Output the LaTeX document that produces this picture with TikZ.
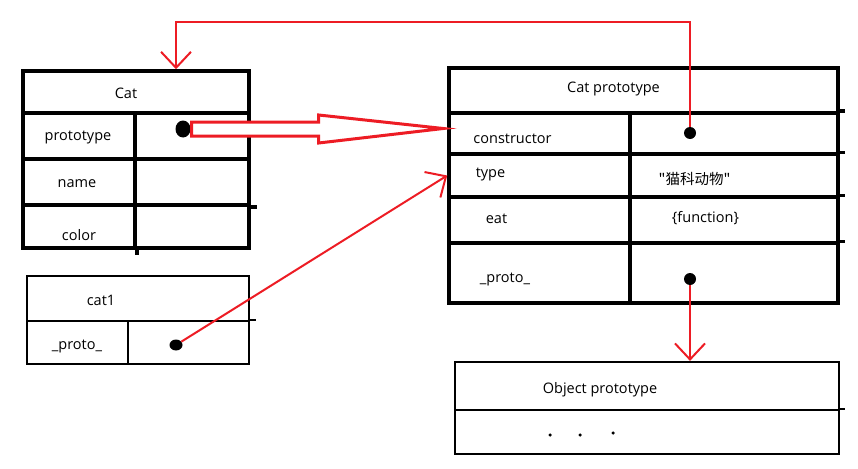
\documentclass[tikz,border=0pt]{standalone}
\usepackage{fontspec}
\setmainfont{Open Sans}
\newfontfamily\cjk{Noto Sans CJK SC}
\usetikzlibrary{arrows.meta,calc,shapes.geometric}
\definecolor{paintred}{RGB}{237,28,36}
\tikzset{
  heavy/.style={draw=black,line width=3.5pt},
  light/.style={draw=black,line width=2.2pt},
  cell/.style 2 args={rectangle,inner sep=0pt,minimum width=#1,minimum height=#2},
  lab/.style={font=\fontsize{14.5}{17}\selectfont,inner sep=0pt},
  blob/.style={ellipse,fill=black,inner sep=0pt},
  link/.style={draw=paintred,line width=2pt,-{Straight Barb[length=16pt,width=30pt]}},
  fatarrow/.style={draw=paintred,fill=white,line width=3pt,line join=miter},
}

\begin{document}
\begin{tikzpicture}[x=1pt,y=-1pt]
  \path[use as bounding box] (0,0) rectangle (858,468);

  % Cat
  \node[heavy,cell={226pt}{42pt}] (cattitle) at (136,92) {};
  \node[heavy,cell={112pt}{46pt}] (protokey) at (79,136) {};
  \node[heavy,cell={114pt}{46pt}] (protoval) at (192,136) {};
  \node[heavy,cell={112pt}{46pt}] (namekey) at (79,182) {};
  \node[heavy,cell={114pt}{46pt}] (nameval) at (192,182) {};
  \node[heavy,cell={112pt}{43pt}] (colorkey) at (79,226.5) {};
  \node[heavy,cell={114pt}{43pt}] (colorval) at (192,226.5) {};
  \draw[heavy] (nameval.south east) -- ++(6,0);
  \draw[heavy] (colorkey.south east) -- ++(0,5);
  \node[lab] (catlab) at (126,93) {Cat};
  \node[lab] (protolab) at (78,137) {prototype};
  \node[lab] (namelab) at (77,184) {name};
  \node[lab] (colorlab) at (79,235) {color};
  \node[blob,minimum width=15pt,minimum height=17pt] (pdot) at (183,129) {};

  % Cat prototype
  \node[heavy,cell={389pt}{45pt}] (cptitle) at (643.5,90.5) {};
  \node[heavy,cell={181pt}{41pt}] (ctorkey) at (539.5,133.5) {};
  \node[heavy,cell={208pt}{41pt}] (ctorval) at (734,133.5) {};
  \node[heavy,cell={181pt}{43pt}] (typekey) at (539.5,175.5) {};
  \node[heavy,cell={208pt}{43pt}] (typeval) at (734,175.5) {};
  \node[heavy,cell={181pt}{46pt}] (eatkey) at (539.5,220) {};
  \node[heavy,cell={208pt}{46pt}] (eatval) at (734,220) {};
  \node[heavy,cell={181pt}{60pt}] (cpprotokey) at (539.5,273) {};
  \node[heavy,cell={208pt}{60pt}] (cpprotoval) at (734,273) {};
  \foreach \n in {ctorval,typeval,eatval,cpprotoval}
    \draw[heavy] (\n.north east) -- ++(5,0);
  \node[lab] (cplab) at (613.5,89) {Cat prototype};
  \node[lab] (ctorlab) at (512.5,138.5) {constructor};
  \node[lab] (typelab) at (490.5,174) {type};
  \node[lab] (eatlab) at (496.5,219) {eat};
  \node[lab] (cpprotolab) at (505,279.5) {\_proto\_};
  \node[lab] (typevallab) at (694.5,178.5) {\cjk "猫科动物"};
  \node[lab] (eatvallab) at (705.5,218) {\{function\}};
  \node[blob,minimum size=12pt] (cdot) at (690,133) {};
  \node[blob,minimum size=12pt] (protodot) at (690,279) {};

  % cat1
  \node[light,cell={222pt}{45pt}] (c1title) at (138,298.5) {};
  \node[light,cell={101pt}{43pt}] (c1key) at (77.5,342.5) {};
  \node[light,cell={121pt}{43pt}] (c1val) at (188.5,342.5) {};
  \draw[light] (c1val.north east) -- ++(6,0);
  \node[lab] (c1lab) at (101,300) {cat1};
  \node[lab] (c1protolab) at (77,346) {\_proto\_};
  \node[blob,minimum width=13pt,minimum height=11pt] (c1dot) at (176,345) {};

  % Object prototype
  \node[light,cell={384pt}{48pt}] (optitle) at (647,386) {};
  \node[light,cell={384pt}{44pt}] (opbody) at (647,432) {};
  \draw[light] (opbody.north east) -- ++(5,0);
  \node[lab] (oplab) at (600,389.5) {Object prototype};
  \foreach \x/\y [count=\i] in {550/435,580/435,613/433}
    \node[blob,minimum size=3.5pt] (od\i) at (\x,\y) {};

  % links
  \coordinate (tip) at ($(ctorkey.west)+(-4,-5)$);
  \draw[fatarrow] ($(pdot.east)+(1,-7)$) -- ($(pdot.east)+(128,-7)$)
    -- ($(pdot.east)+(128,-14)$) -- (tip) -- ($(pdot.east)+(128,14)$)
    -- ($(pdot.east)+(128,7)$) -- ($(pdot.east)+(1,7)$) -- cycle;
  \coordinate (bend) at (176,22);
  \draw[link] (cdot) |- (bend) -- (bend |- cattitle.north);
  \draw[link] (c1dot) -- (typekey.west);
  \draw[link] (protodot) -- (protodot |- optitle.north);
\end{tikzpicture}
\end{document}
